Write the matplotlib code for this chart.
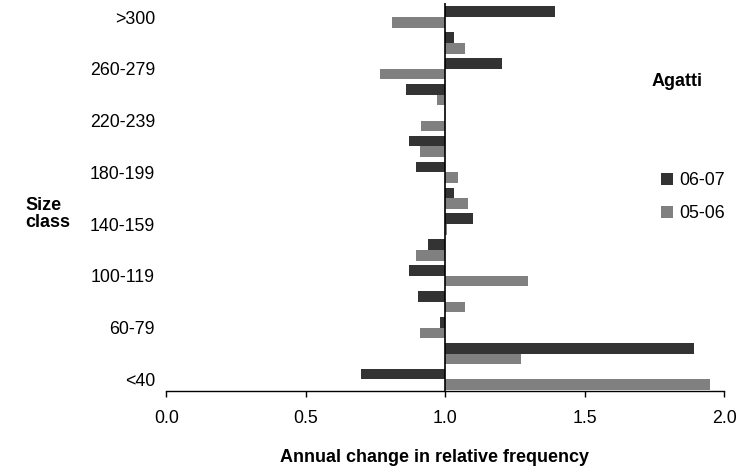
import numpy as np
import matplotlib.pyplot as plt

plt.rcParams['font.family'] = ['Liberation Sans', 'DejaVu Sans']

# size classes from bottom to top
classes = ['<40', '40-59', '60-79', '80-99', '100-119', '120-139', '140-159',
           '160-179', '180-199', '200-219', '220-239', '240-259', '260-279',
           '280-299', '>300']
shown = ['<40', '60-79', '100-119', '140-159', '180-199', '220-239', '260-279', '>300']

# annual change (ratio) per class
y0607 = [0.698, 1.891, 0.981, 0.902, 0.870, 0.938, 1.099, 1.031, 0.895,
         0.870, 1.000, 0.859, 1.203, 1.031, 1.393]
y0506 = [1.949, 1.271, 0.909, 1.071, 1.296, 0.895, 1.005, 1.081, 1.045,
         0.909, 0.913, 0.970, 0.766, 1.071, 0.809]

base = 1.0
h = 0.41
pos = np.arange(len(classes))
fs = 12.8

fig = plt.figure(figsize=(7.52, 4.70), dpi=100)
ax = fig.add_axes([0.221, 0.168, 0.742, 0.826])

ax.barh(pos + h / 2, np.array(y0607) - base, left=base, height=h,
        color='#333333', label='06-07')
ax.barh(pos - h / 2, np.array(y0506) - base, left=base, height=h,
        color='#808080', label='05-06')
ax.axvline(base, color='black', lw=1.2, zorder=3)

ax.set_xlim(0, 2.0)
ax.set_ylim(-0.45, 14.55)
ax.set_xticks([0.0, 0.5, 1.0, 1.5, 2.0])
ax.set_xticklabels(['0.0', '0.5', '1.0', '1.5', '2.0'], fontsize=fs)
ax.set_yticks([classes.index(c) for c in shown])
ax.set_yticklabels(shown, fontsize=fs)
ax.tick_params(axis='y', length=0, pad=8)
ax.tick_params(axis='x', direction='out', length=4, width=1, pad=10)

for s in ['left', 'top', 'right']:
    ax.spines[s].set_visible(False)
ax.spines['bottom'].set_linewidth(1)

fig.text(434 / 752, 1 - 457 / 470, 'Annual change in relative frequency',
         ha='center', va='center', fontsize=13, fontweight='bold')
fig.text(25 / 752, 1 - 214 / 470, 'Size\nclass', ha='left', va='center',
         fontsize=13, fontweight='bold', linespacing=1.0)
fig.text(677 / 752, 1 - 82 / 470, 'Agatti', ha='center', va='center',
         fontsize=13, fontweight='bold')

ax.legend(loc='center left', bbox_to_anchor=(661 / 752, 1 - 197 / 470),
          bbox_transform=fig.transFigure, frameon=False, fontsize=fs,
          handlelength=0.65, handleheight=0.65, handletextpad=0.35,
          labelspacing=0.9, borderaxespad=0, borderpad=0)

fig.savefig('out.png', dpi=100)
